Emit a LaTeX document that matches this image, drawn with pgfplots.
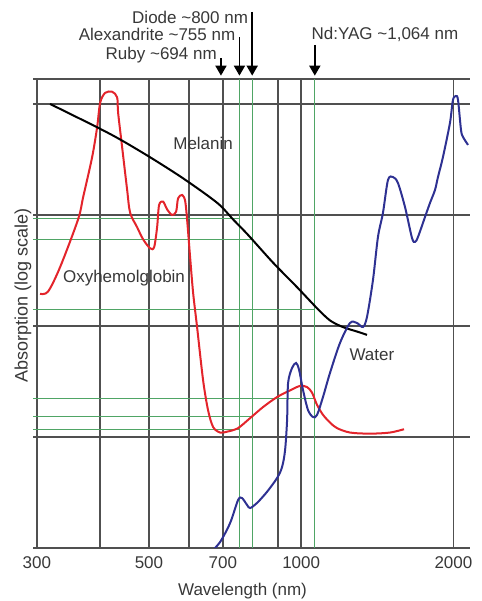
\documentclass[border=0pt]{standalone}
\usepackage{pgfplots}
\pgfplotsset{compat=1.18}
\usepackage{fontspec}
\setmainfont{Liberation Sans}
\usetikzlibrary{arrows.meta}
\definecolor{gridgray}{HTML}{505050}
\definecolor{lgreen}{HTML}{4FA565}
\definecolor{hred}{HTML}{E3242B}
\definecolor{wblue}{HTML}{2E3192}
\definecolor{txt}{HTML}{383838}
\begin{document}
\begin{tikzpicture}[font=\fontsize{17}{20}\selectfont]
\begin{axis}[
  at={(0pt,0pt)}, anchor=south west,
  scale only axis, width=437pt, height=469pt,
  xmode=log, xmin=294.9, xmax=2157, ymin=0, ymax=4.225,
  axis line style={draw=none},
  xtick={300,400,500,600,700,900,1000,2000},
  xticklabels={300,,500,,700,,1000,2000},
  ytick={0,1,2,3,4,4.225},
  yticklabels={},
  minor xtick={}, minor ytick={},
  major tick length=0pt,
  grid=major,
  major grid style={gridgray, line width=1.6pt},
  xticklabel style={text=txt, inner sep=0pt, anchor=north, yshift=-8pt,
    font=\fontsize{17}{20}\selectfont},
  clip mode=individual,
]
% green laser lines
\draw[lgreen, line width=0.9pt] (axis cs:755,0) -- (axis cs:755,4.225);
\draw[lgreen, line width=1.3pt] (axis cs:800,0) -- (axis cs:800,4.225);
\draw[lgreen, line width=0.9pt] (axis cs:1064,0) -- (axis cs:1064,4.225);
\draw[lgreen, line width=0.9pt] (axis cs:294.9,2.973) -- (axis cs:755,2.973);
\draw[lgreen, line width=0.9pt] (axis cs:294.9,2.784) -- (axis cs:800,2.784);
\draw[lgreen, line width=0.9pt] (axis cs:294.9,2.153) -- (axis cs:1064,2.153);
\draw[lgreen, line width=0.9pt] (axis cs:294.9,1.351) -- (axis cs:1064,1.351);
\draw[lgreen, line width=0.9pt] (axis cs:294.9,1.189) -- (axis cs:800,1.189);
\draw[lgreen, line width=0.9pt] (axis cs:294.9,1.072) -- (axis cs:755,1.072);

% Oxyhemoglobin
\addplot[hred, line width=2pt, smooth, tension=0.5] coordinates {
(304.5,2.29)(315.8,2.31)(333.6,2.53)(362.1,2.96)(370.5,3.16)(386,3.52)(394.9,3.79)
(400.3,4.01)(409.5,4.10)(422.8,4.11)(432.5,4.06)(434.5,3.92)(442.5,3.61)(452.6,3.23)
(458.9,3.02)(473.7,2.89)(486.9,2.78)(502.6,2.70)(511.9,2.71)(518.9,2.89)(523.6,3.09)
(533.3,3.12)(543.1,3.05)(555.6,3.00)(565.8,3.03)(570.9,3.15)(581.4,3.18)(589.4,3.13)
(594.8,2.96)(603,2.62)(611.3,2.30)(622.5,1.99)(639.8,1.51)(654.5,1.24)(669.6,1.09)
(691.3,1.04)(716.9,1.05)(750.3,1.08)(792.5,1.17)(840.8,1.27)(896.1,1.36)(950.6,1.42)
(994.6,1.46)(1026.8,1.45)(1050.4,1.40)(1074.6,1.29)(1104.3,1.20)(1140.1,1.13)
(1177.1,1.08)(1249,1.04)(1367.8,1.03)(1498.4,1.04)(1597,1.07)};

% Melanin
\addplot[black, line width=2pt, smooth, tension=0.5] coordinates {
(318.7,4.0)(394.9,3.79)(438.5,3.68)(502.6,3.52)(584.1,3.33)(681.9,3.11)(733.4,2.96)
(785.3,2.82)(879.9,2.57)(981.1,2.35)(1074.6,2.16)(1140.1,2.05)(1209.7,1.99)
(1289.2,1.95)(1349.2,1.92)};

% Water
\addplot[wblue, line width=2pt, smooth, tension=0.5] coordinates {
(665,-0.03)(691.3,0.054)(723.5,0.225)(750.3,0.432)(763.8,0.450)(781.7,0.387)(792.5,0.360)
(817.5,0.405)(855.5,0.505)(896.1,0.631)(916.7,0.730)(929.3,0.883)(937.8,1.153)
(942.0,1.486)(959.3,1.622)(977.0,1.667)(990.5,1.604)(1008.3,1.423)(1031.5,1.243)
(1055.2,1.180)(1074.6,1.198)(1104.3,1.360)(1140.1,1.577)(1193.2,1.847)(1249.0,2.027)
(1289.2,2.027)(1324.7,1.991)(1349.2,2.081)(1386.5,2.414)(1418.4,2.802)(1451.0,3.018)
(1484.5,3.315)(1518.6,3.342)(1553.6,3.288)(1604.3,3.072)(1656.3,2.793)(1679.1,2.757)
(1702.1,2.802)(1757.3,2.982)(1797.7,3.108)(1839.1,3.225)(1864.4,3.342)(1907.3,3.523)
(1969.1,3.829)(1996.1,4.036)(2023.6,4.072)(2042.2,4.036)(2070.3,3.766)(2089.2,3.703)
(2137.3,3.631)};

% curve labels
\node[text=txt] at (axis cs:639.8,3.649) {Melanin};
\node[text=txt] at (axis cs:446.3,2.432) {Oxyhemolglobin};
\node[text=txt] at (axis cs:1380,1.739) {Water};

% laser arrows
\draw[black, line width=1.8pt, -{Triangle[length=10pt,width=11pt]}] (axis cs:694,4.414) -- (axis cs:694,4.255);
\draw[black, line width=1.8pt, -{Triangle[length=10pt,width=11pt]}] (axis cs:755,4.600) -- (axis cs:755,4.255);
\draw[black, line width=1.8pt, -{Triangle[length=10pt,width=11pt]}] (axis cs:800,4.829) -- (axis cs:800,4.255);
\draw[black, line width=1.8pt, -{Triangle[length=10pt,width=11pt]}] (axis cs:1064,4.532) -- (axis cs:1064,4.255);
\node[text=txt, anchor=east, inner sep=0pt, xshift=-4pt] at (axis cs:694,4.441) {Ruby \char`~694 nm};
\node[text=txt, anchor=east, inner sep=0pt, xshift=-4pt] at (axis cs:755,4.622) {Alexandrite \char`~755 nm};
\node[text=txt, anchor=east, inner sep=0pt, xshift=-4pt] at (axis cs:800,4.784) {Diode \char`~800 nm};
\node[text=txt, inner sep=0pt] at (axis cs:1464,4.622) {Nd:YAG \char`~1,064 nm};

% axis titles
\node[text=txt, xshift=-10pt, rotate=90, font=\fontsize{18}{21}\selectfont] at (rel axis cs:0,0.539) {Absorption (log scale)};
\node[text=txt, xshift=-9pt, yshift=-43pt] at (rel axis cs:0.5,0) {Wavelength (nm)};
\end{axis}
\pgfresetboundingbox
\path (-33pt,-53pt) rectangle (448pt,548pt);
\end{tikzpicture}
\end{document}
